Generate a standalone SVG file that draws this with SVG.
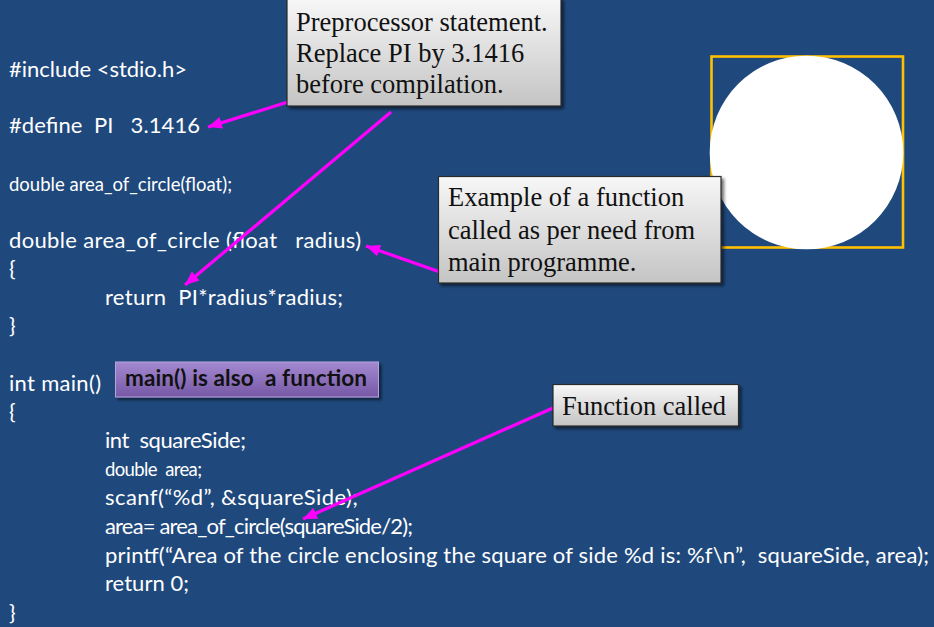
<svg xmlns="http://www.w3.org/2000/svg" width="934" height="627" viewBox="0 0 934 627">
<defs>
<style>
.code{font-family:Lato,"Open Sans","DejaVu Sans",sans-serif;font-size:22px;fill:#ffffff;white-space:pre}
.small{font-size:18.5px}
.call{font-family:"Liberation Serif","Times New Roman",serif;font-size:26.5px;fill:#111111;white-space:pre}
.box{fill:url(#gray);stroke:#2a2a2a;stroke-width:1.2;filter:url(#sh)}
.conn{stroke:#ff00ff;stroke-width:3.2;fill:none;marker-end:url(#ah)}
</style>
<linearGradient id="gray" x1="0" y1="0" x2="0" y2="1">
<stop offset="0" stop-color="#f7f7f7"/>
<stop offset="1" stop-color="#c4c4c4"/>
</linearGradient>
<linearGradient id="purp" x1="0" y1="0" x2="0" y2="1">
<stop offset="0" stop-color="#a389d0"/>
<stop offset="1" stop-color="#7658a6"/>
</linearGradient>
<filter id="sh" x="-10%" y="-10%" width="130%" height="140%">
<feDropShadow dx="2.5" dy="2.5" stdDeviation="1.5" flood-color="#000" flood-opacity="0.55"/>
</filter>
<marker id="ah" markerUnits="userSpaceOnUse" markerWidth="16" markerHeight="14" refX="14" refY="6" orient="auto">
<path d="M0,0 L14,6 L0,12 z" fill="#ff00ff"/>
</marker>
</defs>
<rect width="934" height="627" fill="#1f497d"/>

<g id="code">
<text class="code" x="9" y="77" textLength="178" lengthAdjust="spacing">#include &lt;stdio.h&gt;</text>
<text class="code" x="9" y="133" textLength="191" lengthAdjust="spacing">#define  PI   3.1416</text>
<text class="code small" x="9" y="191" textLength="223" lengthAdjust="spacing">double area_of_circle(float);</text>
<text class="code" x="9" y="248" textLength="352" lengthAdjust="spacing">double area_of_circle (float   radius)</text>
<text class="code" x="9" y="276">{</text>
<text class="code" x="105" y="305" textLength="238" lengthAdjust="spacing">return  PI*radius*radius;</text>
<text class="code" x="9" y="333">}</text>
<text class="code" x="9" y="391" textLength="92" lengthAdjust="spacing">int main()</text>
<text class="code" x="9" y="419">{</text>
<text class="code" x="105" y="448" textLength="141" lengthAdjust="spacing">int  squareSide;</text>
<text class="code small" x="105" y="476" textLength="97" lengthAdjust="spacing">double  area;</text>
<text class="code" x="105" y="505" textLength="253" lengthAdjust="spacing">scanf(“%d”, &amp;squareSide);</text>
<text class="code" x="105" y="534" textLength="308" lengthAdjust="spacing">area= area_of_circle(squareSide/2);</text>
<text class="code" x="105" y="563" textLength="824" lengthAdjust="spacing">printf(“Area of the circle enclosing the square of side %d is: %f\n”,  squareSide, area);</text>
<text class="code" x="105" y="591" textLength="84" lengthAdjust="spacing">return 0;</text>
<text class="code" x="9" y="620">}</text>
</g>

<g id="figure">
<rect x="711.5" y="56.5" width="191.5" height="191" fill="none" stroke="#ffc000" stroke-width="2.6"/>
<circle cx="806.5" cy="152.5" r="96.8" fill="#ffffff"/>
</g>

<g id="connectors">
<line class="conn" x1="288" y1="102" x2="208" y2="127"/>
<line class="conn" x1="391" y1="112" x2="185" y2="285"/>
<line class="conn" x1="440" y1="272" x2="366" y2="246"/>
<line class="conn" x1="553" y1="408" x2="303" y2="519"/>
</g>

<g id="callout-preprocessor">
<rect class="box" x="287" y="-2" width="274" height="108"/>
<text class="call" x="296" y="31">Preprocessor statement.</text>
<text class="call" x="296" y="62">Replace PI by 3.1416</text>
<text class="call" x="296" y="93">before compilation.</text>
</g>

<g id="callout-example">
<rect class="box" x="438.5" y="176.5" width="282.5" height="106.5"/>
<text class="call" x="448" y="206">Example of a function</text>
<text class="call" x="448" y="239">called as per need from</text>
<text class="call" x="448" y="271">main programme.</text>
</g>

<g id="callout-main">
<rect x="115.5" y="362" width="263" height="35" fill="url(#purp)" stroke="#b7a3dc" stroke-width="1" filter="url(#sh)"/>
<text x="125" y="386" font-family="Lato,'Open Sans',sans-serif" font-weight="bold" font-size="22.5" fill="#111111" style="white-space:pre" textLength="242" lengthAdjust="spacing">main() is also  a function</text>
</g>

<g id="callout-called">
<rect class="box" x="553" y="384.5" width="185.5" height="41.5"/>
<text class="call" x="562" y="415">Function called</text>
</g>
</svg>
